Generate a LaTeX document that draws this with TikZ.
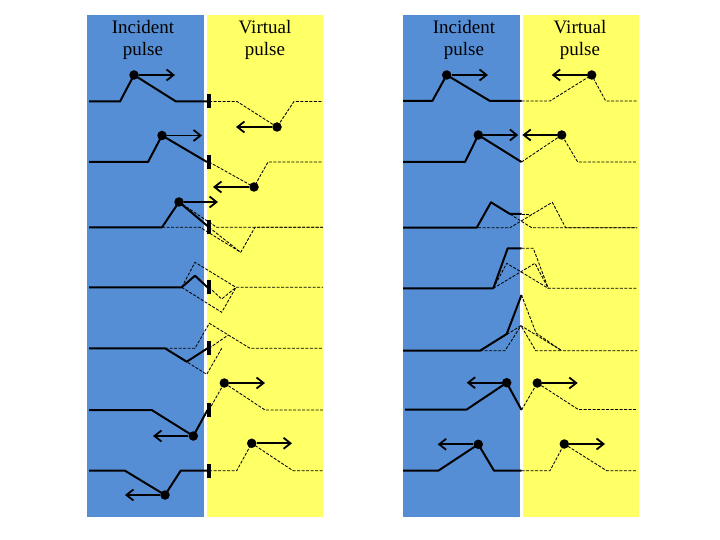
\documentclass[tikz,border=0pt]{standalone}
\usepackage{fontspec}
\setmainfont{Liberation Serif}
\usetikzlibrary{arrows.meta}
\definecolor{panelblue}{HTML}{558ED5}
\definecolor{panelyellow}{HTML}{FFFF66}
\tikzset{
  wave/.style={line width=2pt, line join=round},
  ghost/.style={line width=0.85pt, dash pattern=on 3pt off 1.5pt},
  dotnode/.style={circle, fill=black, inner sep=0pt, minimum size=9.5pt},
  wallbar/.style={rectangle, fill=black, inner sep=0pt, minimum width=4pt, minimum height=14pt},
  arr/.style={line width=1.8pt, -{Straight Barb[length=7pt,width=11pt,line width=1.8pt]}},
  lbl/.style={anchor=base, inner sep=0pt, font=\fontsize{19}{22}\selectfont}
}
\begin{document}
\begin{tikzpicture}[x=1pt,y=-1pt]
\useasboundingbox (0,0) rectangle (720,540);
% panels
\fill[panelblue] (87,15) rectangle (204,517);
\fill[panelyellow] (207,15) rectangle (323,517);
\fill[panelblue] (403,15) rectangle (520,517);
\fill[panelyellow] (523,15) rectangle (639,517);
% labels
\node[lbl] (la1) at (143,33.5) {Incident};
\node[lbl] (la2) at (143,55.5) {pulse};
\node[lbl] (lb1) at (265,33.5) {Virtual};
\node[lbl] (lb2) at (265,55.5) {pulse};
\node[lbl] (ra1) at (464,33.5) {Incident};
\node[lbl] (ra2) at (464,55.5) {pulse};
\node[lbl] (rb1) at (580,33.5) {Virtual};
\node[lbl] (rb2) at (580,55.5) {pulse};

% ================= LEFT PANEL (fixed end) =================
% row 1
\draw[wave] (89,101.5) -- (120,101.5) -- (134,75) -- (176,101.5) -- (207,101.5);
\draw[ghost] (209,101.5) -- (237,101.5) -- (277,127) -- (294,101.5) -- (323,101.5);
\node[wallbar] (b1) at (208.5,101.5) {};
\node[dotnode] (p1) at (134,75) {};
\node[dotnode] (v1) at (277,127) {};
\coordinate (p1e) at (175,75);
\coordinate (v1e) at (236,127);
\draw[arr] (p1) -- (p1e);
\draw[arr] (v1) -- (v1e);
% row 2
\draw[wave] (89,162) -- (148,162) -- (162,135.5) -- (207,162);
\draw[ghost] (209,162) -- (254,187) -- (268,162) -- (323,162);
\node[wallbar] (b2) at (208.5,162) {};
\node[dotnode] (p2) at (162,135.5) {};
\node[dotnode] (v2) at (254,187) {};
\coordinate (p2e) at (202,135.5);
\coordinate (v2e) at (213,187);
\draw[arr] (p2) -- (p2e);
\draw[arr] (v2) -- (v2e);
% row 3
\draw[ghost] (179,202) -- (216.7,227.3) -- (323,227.3);
\draw[ghost] (162,227.3) -- (200,227.3) -- (240.7,252.3) -- (255,227.3) -- (323,227.3);
\draw[ghost] (209,227.3) -- (240.7,252.3);
\draw[wave] (89,227.3) -- (162,227.3) -- (179,202) -- (207.5,226);
\node[wallbar] (b3) at (208.5,227.3) {};
\node[dotnode] (p3) at (179,202) {};
\coordinate (p3e) at (218,202);
\draw[arr] (p3) -- (p3e);
% row 4
\draw[ghost] (181.7,287.3) -- (195,262.3) -- (236,287.3) -- (323,287.3);
\draw[ghost] (181.7,287.3) -- (221.7,312.3) -- (236,287.3);
\draw[ghost] (209,287.3) -- (221.7,299) -- (236,287.3);
\draw[wave] (89,287.3) -- (181.7,287.3) -- (195,275.7) -- (207.5,287.3);
\node[wallbar] (b4) at (208.5,287.3) {};
% row 5
\draw[ghost] (165,348.3) -- (195,348.3) -- (209.3,323.3) -- (250,348.3) -- (323,348.3);
\draw[ghost] (165,348.3) -- (206.7,374.3) -- (221.7,348.3);
\draw[ghost] (209,348.3) -- (228.3,335);
\draw[wave] (89,348.3) -- (165,348.3) -- (186.7,361.7) -- (207.5,348.3);
\node[wallbar] (b5) at (208.5,348.3) {};
% row 6
\draw[wave] (89,410) -- (151.7,410) -- (193.3,436) -- (207.5,410);
\draw[ghost] (209,410) -- (224.3,383) -- (265,410) -- (323,410);
\node[wallbar] (b6) at (208.5,410) {};
\node[dotnode] (p6) at (193.3,436) {};
\node[dotnode] (v6) at (224.3,383) {};
\coordinate (p6e) at (153,436);
\coordinate (v6e) at (265,383);
\draw[arr] (p6) -- (p6e);
\draw[arr] (v6) -- (v6e);
% row 7
\draw[wave] (89,470.7) -- (125,470.7) -- (165,495) -- (180.7,470.7) -- (207,470.7);
\draw[ghost] (209,470.7) -- (236.7,470.7) -- (251.7,443.3) -- (293,470.7) -- (323,470.7);
\node[wallbar] (b7) at (208.5,470.7) {};
\node[dotnode] (p7) at (165,495) {};
\node[dotnode] (v7) at (251.7,443.3) {};
\coordinate (p7e) at (125,495);
\coordinate (v7e) at (292,443.3);
\draw[arr] (p7) -- (p7e);
\draw[arr] (v7) -- (v7e);

% ================= RIGHT PANEL (free end) =================
% row 1
\draw[wave] (403,101) -- (432.3,101) -- (446.7,75) -- (490,101) -- (521.5,101);
\draw[ghost] (521.5,101) -- (550,101) -- (591.7,75) -- (605.7,101) -- (637,101);
\node[dotnode] (q1) at (446.7,75) {};
\node[dotnode] (w1) at (591.7,75) {};
\coordinate (q1e) at (488,75);
\coordinate (w1e) at (551.7,75);
\draw[arr] (q1) -- (q1e);
\draw[arr] (w1) -- (w1e);
% row 2
\draw[wave] (403,162) -- (465,162) -- (478.3,135) -- (521.5,162);
\draw[ghost] (521.5,162) -- (561.7,135) -- (577.7,162) -- (637,162);
\node[dotnode] (q2) at (478.3,135) {};
\node[dotnode] (w2) at (561.7,135) {};
\coordinate (q2e) at (518.3,135);
\coordinate (w2e) at (522.3,135);
\draw[arr] (q2) -- (q2e);
\draw[arr] (w2) -- (w2e);
% row 3
\draw[ghost] (491,202.3) -- (531.7,227.7) -- (637,227.7);
\draw[ghost] (478,227.7) -- (510,227.7) -- (552.3,202.3) -- (565.7,227.7) -- (637,227.7);
\draw[ghost] (521.5,214) -- (531,214);
\draw[wave] (403,227.7) -- (476.7,227.7) -- (491,202.3) -- (510,214) -- (521.5,214);
% row 4
\draw[ghost] (493.3,288.3) -- (506.7,263.3) -- (548.3,288.3);
\draw[ghost] (493.3,288.3) -- (535,263.3) -- (548.3,288.3);
\draw[ghost] (521.5,248.3) -- (533.3,248.3) -- (548.3,288.3) -- (637,288.3);
\draw[wave] (403,288.3) -- (493.3,288.3) -- (507.7,248.3) -- (521.5,248.3);
% row 5
\draw[ghost] (480,350.7) -- (505,350.7) -- (521,325.7) -- (561.7,350.7) -- (637,350.7);
\draw[ghost] (480,350.7) -- (521,325.7) -- (535.7,350.7) -- (561.7,350.7);
\draw[ghost] (521.5,295) -- (536,333) -- (561.7,350.7);
\draw[wave] (403,350.7) -- (480,350.7) -- (506.7,334) -- (521.5,295);
% row 6
\draw[wave] (405,409.5) -- (466.7,409.5) -- (506.7,382.7) -- (521.5,410);
\draw[ghost] (521.5,410) -- (537.3,383) -- (578.3,409.5) -- (637,409.5);
\node[dotnode] (q6) at (506.7,382.7) {};
\node[dotnode] (w6) at (537.3,383) {};
\coordinate (q6e) at (466.7,382.7);
\coordinate (w6e) at (577.7,383);
\draw[arr] (q6) -- (q6e);
\draw[arr] (w6) -- (w6e);
% row 7
\draw[wave] (403,470.7) -- (438.3,470.7) -- (478.3,444.3) -- (494,470.7) -- (521.5,470.7);
\draw[ghost] (521.5,470.7) -- (550,470.7) -- (564.3,444) -- (606.7,470.7) -- (637,470.7);
\node[dotnode] (q7) at (478.3,444.3) {};
\node[dotnode] (w7) at (564.3,444) {};
\coordinate (q7e) at (437.7,444.3);
\coordinate (w7e) at (605,444);
\draw[arr] (q7) -- (q7e);
\draw[arr] (w7) -- (w7e);
\end{tikzpicture}
\end{document}
